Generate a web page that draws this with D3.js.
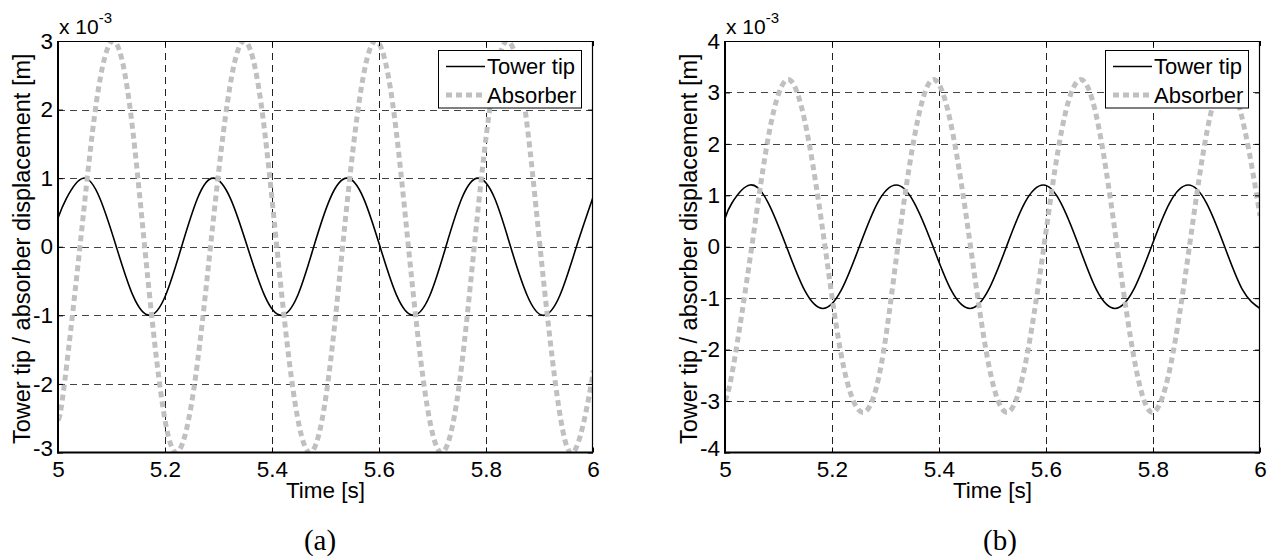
<!DOCTYPE html>
<html>
<head>
  <meta charset='utf-8'>
  <title>Tower tip / absorber displacement</title>
  <script src="https://cdnjs.cloudflare.com/ajax/libs/d3/7.8.5/d3.min.js"></script>
  <style>
    body { margin: 0; background: #fff; }
    text { font-family: "Liberation Sans", Arial, sans-serif; fill: #000; }
    .caption { font-family: "Liberation Serif", "Times New Roman", serif; }
  </style>
</head>
<body>
  <svg id="mySVG" width="1273" height="560"></svg>
  <script>
    // ticks (values are shown in units of 10^-3 m)
    const xTicks = [5, 5.2, 5.4, 5.6, 5.8, 6];
    const yTicksA = [-3, -2, -1, 0, 1, 2, 3];
    const yTicksB = [-4, -3, -2, -1, 0, 1, 2, 3, 4];
    const legendNames = ["Tower tip", "Absorber"];

    // (a) values
    const towerTimeA = [5.000, 5.016, 5.047, 5.078, 5.109, 5.140, 5.171, 5.201, 5.231, 5.261, 5.290, 5.322,
      5.354, 5.386, 5.417, 5.448, 5.478, 5.509, 5.540, 5.571, 5.602, 5.633, 5.664, 5.695, 5.725, 5.755,
      5.785, 5.816, 5.846, 5.877, 5.907, 5.938, 5.969, 6.000];
    const towerA = [0.42, 0.71, 1.00, 0.71, 0.00, -0.71, -1.00, -0.71, 0.00, 0.71, 1.00, 0.71,
      0.00, -0.71, -1.00, -0.71, 0.00, 0.71, 1.00, 0.71, 0.00, -0.71, -1.00, -0.71, 0.00, 0.71,
      1.00, 0.71, 0.00, -0.71, -1.00, -0.71, 0.00, 0.72];
    const absorberTimeA = [5.000, 5.010, 5.041, 5.072, 5.103, 5.133, 5.162, 5.192, 5.221, 5.253, 5.285, 5.317,
      5.348, 5.379, 5.409, 5.440, 5.471, 5.502, 5.532, 5.563, 5.594, 5.625, 5.655, 5.686, 5.717, 5.748,
      5.778, 5.809, 5.840, 5.871, 5.901, 5.932, 5.963, 5.994, 6.000];
    const absorberA = [-2.50, -2.12, 0.00, 2.12, 3.00, 2.12, 0.00, -2.12, -3.00, -2.12, 0.00, 2.12,
      3.00, 2.12, 0.00, -2.12, -3.00, -2.12, 0.00, 2.12, 3.00, 2.12, 0.00, -2.12, -3.00, -2.12,
      0.00, 2.12, 3.00, 2.12, 0.00, -2.12, -3.00, -2.12, -1.80];

    // (b) values
    const towerTimeB = [5.000, 5.013, 5.047, 5.081, 5.115, 5.149, 5.183, 5.217, 5.251, 5.285, 5.320, 5.354,
      5.389, 5.423, 5.458, 5.492, 5.526, 5.560, 5.595, 5.628, 5.662, 5.695, 5.729, 5.763, 5.797, 5.831,
      5.866, 5.900, 5.934, 5.968, 6.000];
    const towerB = [0.55, 0.85, 1.20, 0.85, 0.00, -0.85, -1.20, -0.85, 0.00, 0.85, 1.20, 0.85,
      0.00, -0.85, -1.20, -0.85, 0.00, 0.85, 1.20, 0.85, 0.00, -0.85, -1.20, -0.85, 0.00, 0.85,
      1.20, 0.85, 0.00, -0.85, -1.20];
    const absorberTimeB = [5.000, 5.016, 5.050, 5.084, 5.118, 5.152, 5.187, 5.221, 5.258, 5.292, 5.323, 5.357,
      5.390, 5.424, 5.459, 5.493, 5.527, 5.561, 5.596, 5.630, 5.665, 5.699, 5.733, 5.767, 5.799, 5.833,
      5.868, 5.902, 5.937, 5.971, 6.000];
    const absorberB = [-3.00, -2.30, 0.00, 2.30, 3.25, 2.30, 0.00, -2.30, -3.22, -2.30, 0.00, 2.30,
      3.25, 2.30, 0.00, -2.30, -3.22, -2.30, 0.00, 2.30, 3.25, 2.30, 0.00, -2.30, -3.22, -2.30,
      0.00, 2.30, 3.25, 2.30, 0.60];

    const plotTop = 41;
    const plotBottom = 452.5;
    const plotW = 535;
    const fontSize = 22.5;

    const svg = d3.select('#mySVG');
    svg.append('rect').attr('width', 1273).attr('height', 560).attr('fill', '#fff');

    const panels = [
      { id: 'a', left: 58, yDomain: [-3, 3], yTicks: yTicksA, caption: '(a)', capX: 320,
        tower: [towerTimeA, towerA], absorber: [absorberTimeA, absorberA] },
      { id: 'b', left: 725, yDomain: [-4, 4], yTicks: yTicksB, caption: '(b)', capX: 1000,
        tower: [towerTimeB, towerB], absorber: [absorberTimeB, absorberB] }
    ];

    function drawPanel(p) {
      const g = svg.append('g');
      const x = d3.scaleLinear().domain([5, 6]).range([p.left, p.left + plotW]);
      const y = d3.scaleLinear().domain(p.yDomain).range([plotBottom, plotTop]);
      const h = plotBottom - plotTop;

      // dashed grid
      g.append('g')
        .selectAll('line')
        .data(xTicks.slice(1, -1))
        .join('line')
        .attr('x1', d => Math.round(x(d)) + 0.5).attr('x2', d => Math.round(x(d)) + 0.5)
        .attr('y1', plotTop).attr('y2', plotBottom)
        .attr('stroke', '#222').attr('stroke-dasharray', '7,5');
      g.append('g')
        .selectAll('line')
        .data(p.yTicks.slice(1, -1))
        .join('line')
        .attr('y1', d => Math.round(y(d)) + 0.5).attr('y2', d => Math.round(y(d)) + 0.5)
        .attr('x1', p.left).attr('x2', p.left + plotW)
        .attr('stroke', '#444').attr('stroke-dasharray', '7,5');

      // curves
      const clipId = 'clip-' + p.id;
      g.append('clipPath').attr('id', clipId)
        .append('rect').attr('x', p.left).attr('y', plotTop).attr('width', plotW).attr('height', h);

      const line = d3.line()
        .x(d => x(d[0]))
        .y(d => y(d[1]))
        .curve(d3.curveNatural);

      const curves = g.append('g').attr('clip-path', `url(#${clipId})`);
      curves.append('path')
        .datum(d3.zip(p.tower[0], p.tower[1]))
        .attr('d', line)
        .attr('fill', 'none').attr('stroke', '#000').attr('stroke-width', 1.6);
      curves.append('path')
        .datum(d3.zip(p.absorber[0], p.absorber[1]))
        .attr('d', line)
        .attr('fill', 'none').attr('stroke', '#c0c0c0').attr('stroke-width', 5)
        .attr('stroke-dasharray', '6,4');

      // axes with inside ticks
      const fmt = d => String(d); // plain hyphen minus, as in the original
      const xAxis = g.append('g')
        .attr('transform', `translate(0,${plotBottom})`)
        .call(d3.axisBottom(x).tickValues(xTicks).tickSizeInner(-5).tickSizeOuter(0).tickPadding(9)
          .tickFormat(fmt));
      const yAxis = g.append('g')
        .attr('transform', `translate(${p.left},0)`)
        .call(d3.axisLeft(y).tickValues(p.yTicks).tickSizeInner(-5).tickSizeOuter(0).tickPadding(5)
          .tickFormat(fmt));
      g.append('g')
        .attr('transform', `translate(0,${plotTop})`)
        .call(d3.axisTop(x).tickValues(xTicks).tickSizeInner(-5).tickSizeOuter(0).tickFormat(''));
      g.append('g')
        .attr('transform', `translate(${p.left + plotW},0)`)
        .call(d3.axisRight(y).tickValues(p.yTicks).tickSizeInner(-5).tickSizeOuter(0).tickFormat(''));

      g.selectAll('.domain').remove();
      g.selectAll('.tick line').attr('stroke', '#000');
      [xAxis, yAxis].forEach(a => a.attr('font-family', null).attr('font-size', null)
        .selectAll('text').style('font-size', fontSize + 'px'));
      // the lowest y tick label sits a bit higher, like in the original
      yAxis.selectAll('.tick text').filter(d => d === p.yDomain[0]).attr('dy', '0.12em');

      // frame
      g.append('line').attr('x1', p.left).attr('x2', p.left + plotW)
        .attr('y1', plotTop + 0.5).attr('y2', plotTop + 0.5).attr('stroke', '#000').attr('stroke-width', 1.2);
      g.append('line').attr('x1', p.left + plotW - 0.5).attr('x2', p.left + plotW - 0.5)
        .attr('y1', plotTop).attr('y2', plotBottom).attr('stroke', '#000').attr('stroke-width', 1.2);
      g.append('line').attr('x1', p.left).attr('x2', p.left)
        .attr('y1', plotTop).attr('y2', plotBottom + 1).attr('stroke', '#000').attr('stroke-width', 2);
      g.append('line').attr('x1', p.left - 1).attr('x2', p.left + plotW)
        .attr('y1', plotBottom).attr('y2', plotBottom).attr('stroke', '#000').attr('stroke-width', 2);

      // exponent label
      const mult = g.append('text')
        .attr('x', p.left + 1).attr('y', 34)
        .style('font-size', '21px');
      mult.append('tspan').text('x 10');
      mult.append('tspan').attr('dy', -11).style('font-size', '15px').text('-3');

      // axis titles
      g.append('text')
        .attr('x', p.left + plotW / 2).attr('y', 498)
        .attr('text-anchor', 'middle')
        .style('font-size', fontSize + 'px')
        .text('Time [s]');
      g.append('text')
        .attr('transform', `translate(${p.left - 28},${(plotTop + plotBottom) / 2 + 2}) rotate(-90)`)
        .attr('text-anchor', 'middle')
        .style('font-size', '23.5px')
        .text('Tower tip / absorber displacement [m]');

      // legend
      const lx = p.left + 380;
      const legend = g.append('g');
      legend.append('rect')
        .attr('x', lx + 0.5).attr('y', 50.5).attr('width', 143).attr('height', 57.5)
        .attr('fill', '#fff').attr('stroke', '#000').attr('stroke-width', 1);
      const styles = [
        { stroke: '#000', width: 1.6, dash: null },
        { stroke: '#c0c0c0', width: 5, dash: '6,4' }
      ];
      legendNames.forEach((name, i) => {
        const ly = 66.5 + i * 28.5;
        legend.append('line')
          .attr('x1', lx + 8).attr('x2', lx + 47)
          .attr('y1', ly).attr('y2', ly)
          .attr('stroke', styles[i].stroke).attr('stroke-width', styles[i].width)
          .attr('stroke-dasharray', styles[i].dash);
        legend.append('text')
          .attr('x', lx + 49).attr('y', ly + 7.5)
          .style('font-size', '22px')
          .text(name);
      });

      // panel caption
      svg.append('text')
        .attr('class', 'caption')
        .attr('x', p.capX).attr('y', 550)
        .attr('text-anchor', 'middle')
        .style('font-size', '29px')
        .text(p.caption);
    }

    panels.forEach(drawPanel);
  </script>
</body>
</html>
